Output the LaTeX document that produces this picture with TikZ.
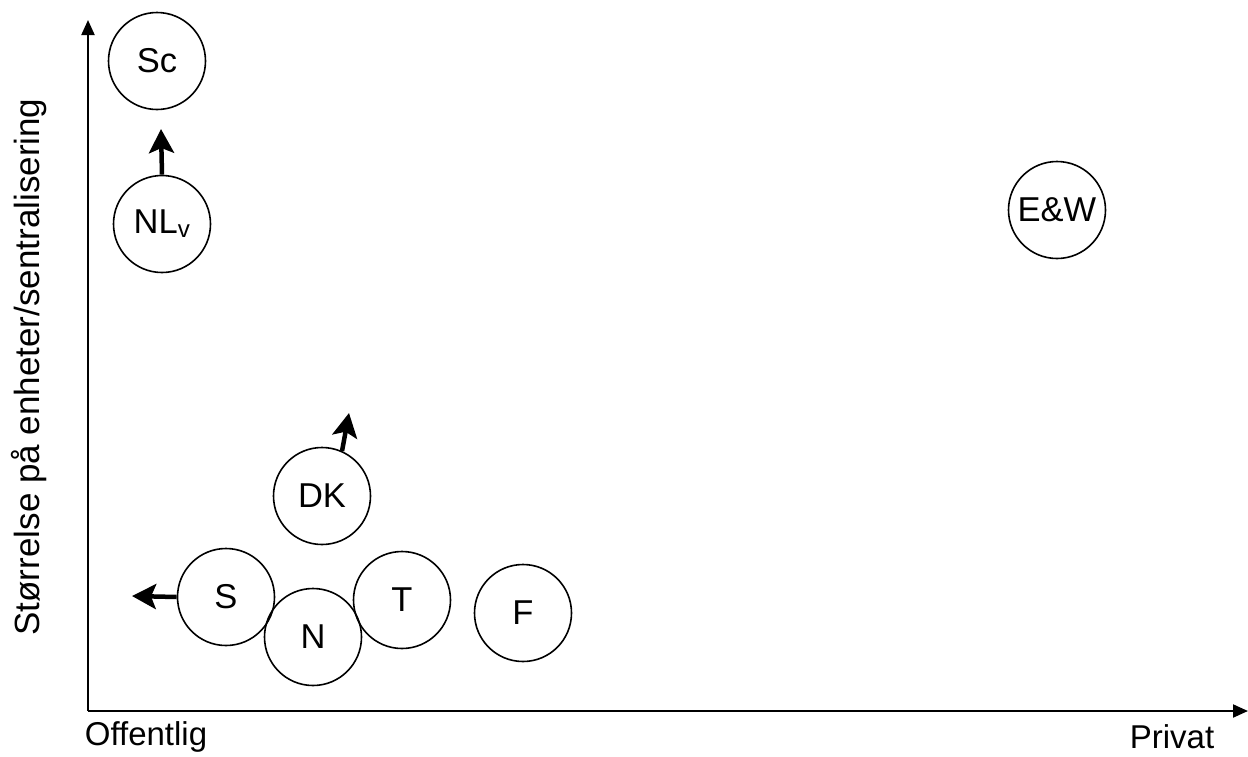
\documentclass[tikz,border=0pt]{standalone}
\usepackage{fontspec}
\setmainfont{Liberation Sans}
\usetikzlibrary{arrows.meta}
\begin{document}
\begin{tikzpicture}[x=1pt,y=-1pt,
  country/.style={draw,circle,line width=1.6pt,minimum size=97pt,inner sep=0pt,font=\fontsize{34.5}{38}\selectfont},
  axis/.style={line width=2pt,-{Triangle[width=13pt,length=15pt]}},
  move/.style={line width=4.5pt,-{Stealth[width=25pt,length=24pt,inset=5pt]}},
  lab/.style={font=\fontsize{33}{37}\selectfont}]
\useasboundingbox (0,0) rectangle (1248,756);
\coordinate (O) at (88,711);
\coordinate (Ytip) at (88,20);
\coordinate (Xtip) at (1248,711);
\draw[axis] (O) -- (Ytip);
\draw[axis] (O) -- (Xtip);
\node[lab] (off) at (146,737) {Offentlig};
\node[lab] (priv) at (1172,737) {Privat};
\node[lab,font=\fontsize{35}{39}\selectfont,rotate=90] (ylab) at (29,367) {Størrelse på enheter/sentralisering};
\node[country] (Sc) at (157,61) {Sc};
\node[country] (NL) at (162,224) {NL\textsubscript{v}};
\node[country] (EW) at (1057,210) {E\&W};
\node[country] (DK) at (322,496) {DK};
\node[country] (S) at (226,597) {S};
\node[country] (N) at (313,637) {N};
\node[country] (T) at (402,600) {T};
\node[country] (F) at (523,613) {F};
\coordinate (nlt) at (161,129);
\coordinate (dkt) at (349,413);
\coordinate (st) at (132,596);
\draw[move] (NL.north) -- (nlt);
\draw[move] (DK.66) -- (dkt);
\draw[move] (S.west) -- (st);
\end{tikzpicture}
\end{document}
